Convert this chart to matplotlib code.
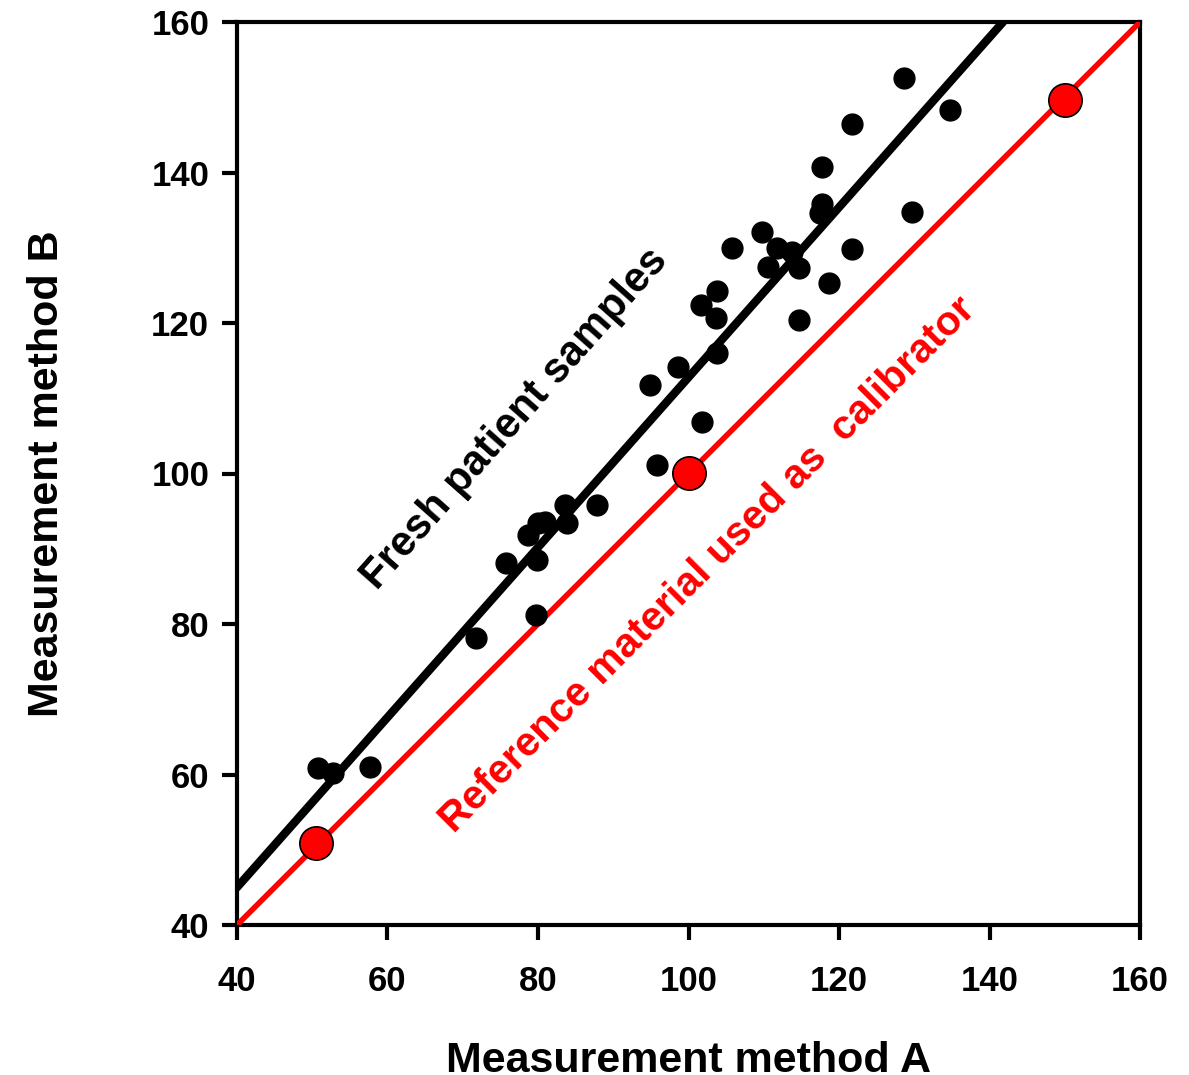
import matplotlib
matplotlib.use("Agg")
import matplotlib.pyplot as plt
import numpy as np

plt.rcParams['font.family'] = ['Liberation Sans', 'DejaVu Sans']
plt.rcParams['font.weight'] = 'bold'

# Fresh patient samples (method A, method B)
patient_a = [50.8, 52.8, 57.7, 71.8, 79.7, 75.7, 79.9, 78.7, 80.0, 80.9, 83.9, 83.6,
             87.8, 95.8, 101.8, 94.9, 98.6, 103.8, 128.6, 134.8, 121.7, 117.7,
             117.7, 117.5, 129.7, 109.8, 105.8, 111.8, 113.8, 121.7, 110.6, 114.7,
             118.7, 103.8, 101.7, 103.7, 114.7]
patient_b = [60.9, 60.2, 61.0, 78.1, 81.2, 88.1, 88.5, 91.8, 93.4, 93.6, 93.4, 95.8,
             95.8, 101.1, 106.8, 111.8, 114.2, 116.0, 152.6, 148.3, 146.4, 140.7,
             135.8, 134.6, 134.8, 132.1, 130.0, 130.0, 129.4, 129.8, 127.4, 127.3,
             125.3, 124.3, 122.4, 120.6, 120.4]

# Reference material used as calibrator
ref_a = [50.5, 100.0, 150.0]
ref_b = [50.9, 100.1, 149.6]

# Regression line for patient samples (start / end)
fit_x = [40.0, 141.8]
fit_y = [45.0, 160.0]
# Identity line for reference material
id_x = [40.0, 160.0]
id_y = [40.0, 160.0]

ticks = [40, 60, 80, 100, 120, 140, 160]

fig = plt.figure(figsize=(11.89, 10.75), dpi=100)
ax = fig.add_axes([237/1189, 1 - 925/1075, (1140-237)/1189, (925-22)/1075])

ax.plot(fit_x, fit_y, color='black', lw=6, solid_capstyle='round', zorder=3)
ax.plot(id_x, id_y, color='#ff0000', lw=4, solid_capstyle='round', zorder=3)
ax.plot(patient_a, patient_b, 'o', color='black', ms=15, mec='black', zorder=4)
ax.plot(ref_a, ref_b, 'o', color='#ff0000', ms=24, mec='black', mew=1.2, zorder=5)

ax.text(76.9, 107.3, 'Fresh patient samples', rotation=48.5, rotation_mode='anchor',
        ha='center', va='center', fontsize=30, fontweight='bold', color='black')
ax.text(102.6, 87.9, 'Reference material used as  calibrator', rotation=45,
        rotation_mode='anchor', ha='center', va='center', fontsize=29.5,
        fontweight='bold', color='#ff0000')

ax.set_xlim(40, 160)
ax.set_ylim(40, 160)
ax.set_xticks(ticks)
ax.set_yticks(ticks)
ax.set_xticklabels([str(t) for t in ticks], fontsize=25, fontweight='bold')
ax.set_yticklabels([str(t) for t in ticks], fontsize=25, fontweight='bold')
ax.tick_params(direction='out', length=11, width=3)
ax.tick_params(axis='x', pad=18)
ax.tick_params(axis='y', pad=9)
for s in ax.spines.values():
    s.set_linewidth(3)

ax.set_xlabel('Measurement method A', fontsize=31, fontweight='bold')
ax.set_ylabel('Measurement method B', fontsize=31, fontweight='bold')
ax.xaxis.set_label_coords(0.5, -0.128)
ax.yaxis.set_label_coords(-0.188, 0.5)

fig.savefig('out.png', dpi=100)
